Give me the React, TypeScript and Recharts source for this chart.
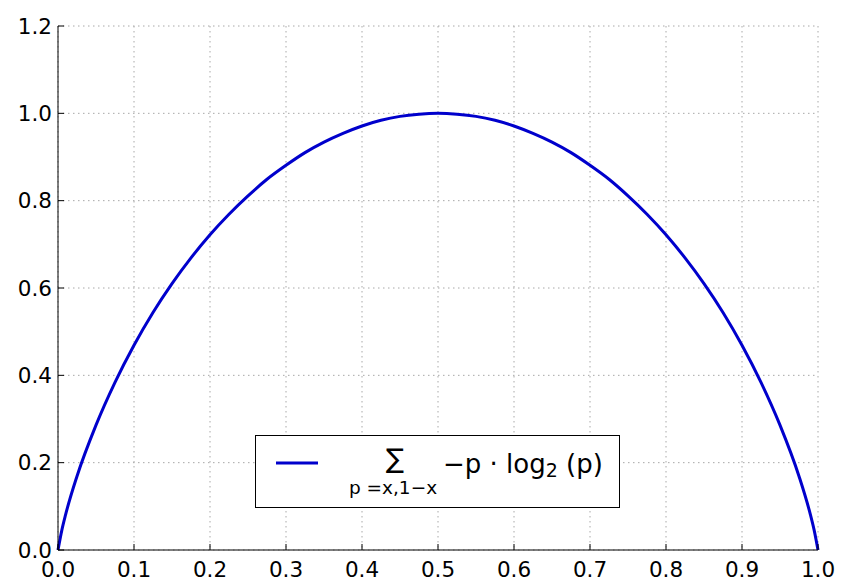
import React from 'react'
import { LineChart, Line, XAxis, YAxis, CartesianGrid, Legend } from 'recharts'

// values
const xs = [0, 0.005, 0.01, 0.025, 0.05, 0.075, 0.1, 0.125, 0.15, 0.175, 0.2, 0.225, 0.25, 0.275, 0.3, 0.325, 0.35, 0.375, 0.4, 0.425, 0.45, 0.475, 0.5,
  0.525, 0.55, 0.575, 0.6, 0.625, 0.65, 0.675, 0.7, 0.725, 0.75, 0.775, 0.8, 0.825, 0.85, 0.875, 0.9, 0.925, 0.95, 0.975, 0.99, 0.995, 1]
const ys = [0, 0.045, 0.081, 0.169, 0.286, 0.384, 0.469, 0.544, 0.61, 0.669, 0.722, 0.769, 0.811, 0.849, 0.881, 0.91, 0.934, 0.954, 0.971, 0.984, 0.993, 0.998, 1.0,
  0.998, 0.993, 0.984, 0.971, 0.954, 0.934, 0.91, 0.881, 0.849, 0.811, 0.769, 0.722, 0.669, 0.61, 0.544, 0.469, 0.384, 0.286, 0.169, 0.081, 0.045, 0]

const xTicks = [0, 0.1, 0.2, 0.3, 0.4, 0.5, 0.6, 0.7, 0.8, 0.9, 1.0]
const yTicks = [0, 0.2, 0.4, 0.6, 0.8, 1.0, 1.2]

const data = xs.map((x, i) => ({ x, h: ys[i] }))

const FONT = 'DejaVu Sans'

const BottomTick = (props: any) => {
  const { x, y, payload } = props
  return (
    <g>
      <line x1={x} y1={y} x2={x} y2={y - 6} stroke="#000" />
      <text x={x} y={y + 27} textAnchor="middle" fontFamily={FONT} fontSize={21.5} fill="#000">
        {Number(payload.value).toFixed(1)}
      </text>
    </g>
  )
}

const TopTick = (props: any) => {
  const { x, y } = props
  return <line x1={x} y1={y} x2={x} y2={y + 6} stroke="#000" />
}

const LeftTick = (props: any) => {
  const { x, y, payload } = props
  return (
    <g>
      <line x1={x} y1={y} x2={x + 6} y2={y} stroke="#000" />
      <text x={x - 6} y={y} dy="0.36em" textAnchor="end" fontFamily={FONT} fontSize={21.5} fill="#000">
        {Number(payload.value).toFixed(1)}
      </text>
    </g>
  )
}

const RightTick = (props: any) => {
  const { x, y } = props
  return <line x1={x} y1={y} x2={x - 6} y2={y} stroke="#000" />
}

const LegendBox = () => (
  <div style={{ width: 365, height: 73, boxSizing: 'border-box', border: '1px solid #000', background: '#fff' }}>
    <svg width={363} height={71} style={{ display: 'block' }}>
      <line x1={20} y1={27} x2={62} y2={27} stroke="#0000cc" strokeWidth={3} />
      <text x={139} y={32} textAnchor="middle" fontFamily={FONT} fontSize={27} fill="#000">∑</text>
      <text x={137} y={58} textAnchor="middle" fontFamily={FONT} fontSize={18.5} fill="#000">p =x,1−x</text>
      <text x={187} y={37} fontFamily={FONT} fontSize={26} fill="#000">
        −p · log<tspan fontSize={19} dy={4}>2</tspan><tspan dy={-4}> (p)</tspan>
      </text>
    </svg>
  </div>
)

export default function App() {
  return (
    <div style={{ position: 'absolute', left: 0, top: 0, background: '#fff' }}>
      <LineChart width={850} height={588} data={data} margin={{ top: 26, right: 32, bottom: 0, left: 0 }}>
        <CartesianGrid stroke="#a8a8a8" strokeDasharray="1.5 3.5" />
        <XAxis dataKey="x" type="number" domain={[0, 1]} ticks={xTicks} height={38}
          tickSize={0} tickMargin={0} tickLine={false} axisLine={{ stroke: '#000' }} tick={<BottomTick />} interval={0} />
        <XAxis xAxisId="top" orientation="top" dataKey="x" type="number" domain={[0, 1]} ticks={xTicks} height={0}
          tickSize={0} tickMargin={0} tickLine={false} axisLine={{ stroke: '#000' }} tick={<TopTick />} interval={0} />
        <YAxis type="number" domain={[0, 1.2]} ticks={yTicks} width={58}
          tickSize={0} tickMargin={0} tickLine={false} axisLine={{ stroke: '#000' }} tick={<LeftTick />} interval={0} />
        <YAxis yAxisId="right" orientation="right" type="number" domain={[0, 1.2]} ticks={yTicks} width={0}
          tickSize={0} tickMargin={0} tickLine={false} axisLine={{ stroke: '#000' }} tick={<RightTick />} interval={0} />
        <Legend layout="horizontal" verticalAlign="middle" align="center" content={<LegendBox />}
          wrapperStyle={{ position: 'absolute', left: 255, top: 435, width: 365, height: 73 }} />
        <Line type="monotone" dataKey="h" stroke="#0000cc" strokeWidth={3} dot={false} isAnimationActive={false} />
      </LineChart>
    </div>
  )
}
